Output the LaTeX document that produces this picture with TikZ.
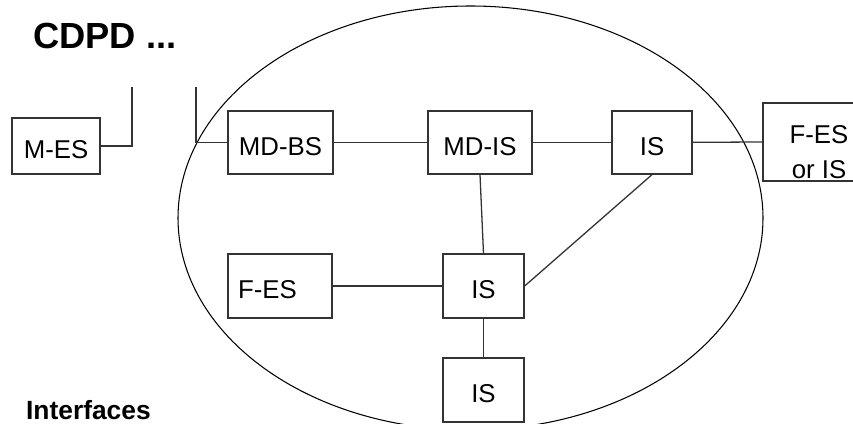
\documentclass[tikz,border=0pt]{standalone}
\usepackage{fontspec}
\setmainfont{Liberation Sans}
\usetikzlibrary{positioning}

\begin{document}
\begin{tikzpicture}[x=0.03cm, y=-0.03cm,
    box/.style={draw=black!80, line width=1.1pt, inner sep=0pt, text height=0.75cm, text depth=0pt,
        font=\fontsize{22}{26}\selectfont},
    link/.style={draw=black!80, line width=1.1pt}]
    \useasboundingbox (0,0) rectangle (853,423);
    \clip (0,0) rectangle (853,423);

    % the network cloud
    \draw[line width=0.9pt] (470.5,218) ellipse [x radius=292.5, y radius=212];

    \node[anchor=base west, font=\fontsize{31}{36}\selectfont\bfseries] (title) at (29,49) {CDPD ...};
    \node[anchor=base west, font=\fontsize{22.5}{26}\selectfont\bfseries] (ifaces) at (22,419) {Interfaces};

    \node[box, minimum width=2.64cm, minimum height=1.68cm] (mes) at (56,146) {M-ES};
    \node[box, minimum width=3.15cm, minimum height=1.89cm] (mdbs) at (280.5,142.5) {MD-BS};
    \node[box, minimum width=3.12cm, minimum height=1.89cm] (mdis) at (480,142.5) {MD-IS};
    \node[box, minimum width=2.4cm, minimum height=1.89cm] (isa) at (652,142.5) {IS};
    \node[box, minimum width=3.36cm, minimum height=2.34cm] (fixed) at (819,142) {};
    \node[font=\fontsize{22}{30}\selectfont, align=center, inner sep=0pt] (fixedtxt) at (819,152) {F-ES\\or IS};
    \node[box, text width=2.52cm, align=left, inner xsep=0.3cm, minimum height=1.92cm] (fes) at (280,286) {F-ES};
    \node[box, minimum width=2.43cm, minimum height=1.92cm] (isb) at (483.5,286) {IS};
    \node[box, minimum width=2.43cm, minimum height=1.92cm] (isc) at (483.5,390) {IS};

    % air interface stubs
    \coordinate (wa) at (132,87);
    \coordinate (wb) at (196,87);
    \draw[link] (mes.east) -| (wa);
    \draw[link] (wb) |- (mdbs.west);

    \draw[link] (mdbs) -- (mdis);
    \draw[link] (mdis) -- (isa);
    \draw[link] (isa) -- (fixed.west);
    \draw[link] (mdis.south) -- (isb.north);
    \draw[link] (isa.south) -- (isb.east);
    \draw[link] (fes) -- (isb);
    \draw[link] (isb) -- (isc);
\end{tikzpicture}
\end{document}
